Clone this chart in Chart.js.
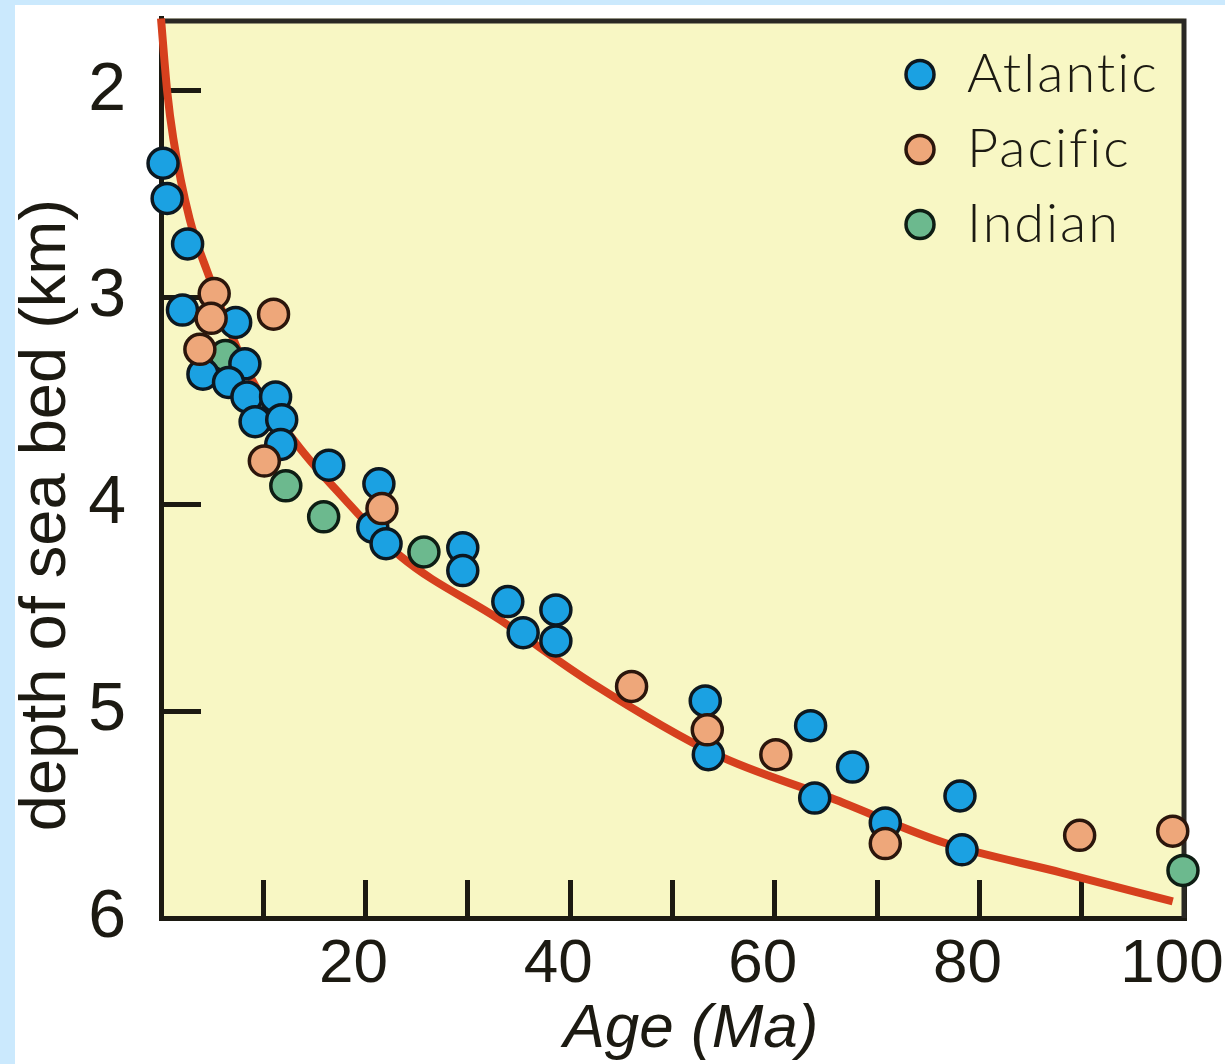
<!DOCTYPE html>
<html>
<head>
<meta charset="utf-8">
<script src="https://cdn.jsdelivr.net/npm/chart.js@4.4.1/dist/chart.umd.min.js"></script>
<style>
  html, body { margin: 0; padding: 0; background: #fff; }
  #bg { position: absolute; left: 0; top: 0; width: 1225px; height: 1064px; box-sizing: border-box;
        border-left: 15px solid #cbe9fd; border-top: 5px solid #cbe9fd; background: #fff; }
  #chart { position: absolute; left: 0; top: 0; }
</style>
</head>
<body>
<div id="bg"></div>
<canvas id="chart" width="1225" height="1064"></canvas>
<script>
// points: age (Ma) and depth (km)
const atlanticAge   = [0.2, 0.6, 2.6, 2.1, 7.3, 8.2, 4.1, 6.6, 8.4, 11.2, 9.2, 11.8, 11.7, 16.4, 21.3, 20.7, 22.0, 29.5, 29.5, 33.9, 35.4, 38.6, 38.6, 53.2, 53.5, 63.5, 67.6, 63.9, 70.8, 78.1, 78.3];
const atlanticDepth = [2.35, 2.52, 2.74, 3.06, 3.12, 3.32, 3.37, 3.41, 3.48, 3.48, 3.60, 3.59, 3.71, 3.81, 3.90, 4.11, 4.19, 4.21, 4.32, 4.47, 4.62, 4.51, 4.66, 4.95, 5.21, 5.07, 5.27, 5.42, 5.54, 5.41, 5.67];

const pacificAge   = [5.2, 4.9, 11.0, 3.8, 10.1, 21.6, 46.0, 53.4, 60.1, 70.8, 89.8, 98.9];
const pacificDepth = [2.98, 3.10, 3.08, 3.25, 3.79, 4.02, 4.88, 5.09, 5.21, 5.64, 5.60, 5.58];

const indianAge   = [6.3, 12.2, 15.9, 25.7, 99.9];
const indianDepth = [3.28, 3.91, 4.06, 4.23, 5.77];

// the red trend curve, traced
const curveAge   = [0, 0.6, 1.2, 2.8, 4.5, 8.7, 13.3, 17.5, 23.4, 33.2, 42, 54.3, 65.5, 76.8, 88, 98.9];
const curveDepth = [1.65, 2.0, 2.23, 2.62, 2.87, 3.38, 3.71, 3.95, 4.25, 4.56, 4.86, 5.21, 5.42, 5.64, 5.78, 5.92];

const seriesNames = ['Atlantic', 'Pacific', 'Indian'];
const xTickValues = [10, 20, 30, 40, 50, 60, 70, 80, 90, 100];
const xLabelValues = [20, 40, 60, 80, 100];
const yTickValues = [2, 3, 4, 5, 6];

const ink = '#1c1a12';
const toXY = (xs, ys) => xs.map((x, i) => ({ x: x, y: ys[i] }));

const pointSet = (label, xs, ys, fill, edge, order) => ({
  label: label,
  data: toXY(xs, ys),
  backgroundColor: fill,
  borderColor: edge,
  borderWidth: 3.5,
  pointRadius: 15,
  pointHoverRadius: 15,
  showLine: false,
  clip: false,
  order: order
});

const datasets = [
  pointSet(seriesNames[0], atlanticAge, atlanticDepth, '#1ba1e2', '#0d1820', 2),
  pointSet(seriesNames[1], pacificAge, pacificDepth, '#eea77a', '#2b160c', 1),
  pointSet(seriesNames[2], indianAge, indianDepth, '#6cb98e', '#0e1d14', 3),
  {
    label: 'trend',
    data: toXY(curveAge, curveDepth),
    showLine: true,
    borderColor: '#d6401e',
    borderWidth: 8,
    pointRadius: 0,
    cubicInterpolationMode: 'monotone',
    clip: false,
    order: 4
  }
];

// scales ask for room for their edge labels; the plot box is fixed here instead
const fixBox = (s, key, size) => {
  s[key] = size;
  s.paddingTop = 0; s.paddingBottom = 0; s.paddingLeft = 0; s.paddingRight = 0;
};

// yellow plot background + thin top/right frame
const plotFrame = {
  id: 'plotFrame',
  beforeDraw(chart) {
    const { ctx, chartArea: a } = chart;
    ctx.save();
    ctx.fillStyle = '#f8f7c4';
    ctx.fillRect(a.left, a.top, a.right - a.left, a.bottom - a.top);
    ctx.restore();
  },
  beforeDatasetsDraw(chart) {
    const { ctx, chartArea: a } = chart;
    ctx.save();
    ctx.strokeStyle = '#2a2824';
    ctx.lineWidth = 5;
    ctx.beginPath();
    ctx.moveTo(a.left, a.top + 2.5);
    ctx.lineTo(a.right, a.top + 2.5);
    ctx.moveTo(a.right, a.top);
    ctx.lineTo(a.right, a.bottom);
    ctx.stroke();
    ctx.restore();
  }
};

// legend inside the plot + axis titles
const labelsPlugin = {
  id: 'labelsPlugin',
  afterDraw(chart) {
    const { ctx, chartArea: a } = chart;
    ctx.save();
    seriesNames.forEach((name, i) => {
      const ds = chart.data.datasets.find(d => d.label === name);
      const cx = a.right - 264, cy = a.top + 56 + i * 75;
      ctx.beginPath();
      ctx.arc(cx, cy, 14, 0, Math.PI * 2);
      ctx.fillStyle = ds.backgroundColor;
      ctx.fill();
      ctx.lineWidth = 3.5;
      ctx.strokeStyle = ds.borderColor;
      ctx.stroke();
      ctx.fillStyle = ink;
      ctx.font = '300 54px Lato';
      ctx.letterSpacing = '2px';
      ctx.textAlign = 'left';
      ctx.textBaseline = 'middle';
      ctx.fillText(name, cx + 47, cy);
    });
    ctx.letterSpacing = '0px';

    ctx.fillStyle = ink;
    ctx.textAlign = 'center';
    ctx.textBaseline = 'middle';
    ctx.font = 'italic 62px "Liberation Sans"';
    ctx.fillText('Age (Ma)', 691, 1030);

    ctx.translate(47, 515);
    ctx.rotate(-Math.PI / 2);
    ctx.font = '65px "Liberation Sans"';
    ctx.fillText('depth of sea bed (km)', 0, 0);
    ctx.restore();
  }
};

new Chart(document.getElementById('chart'), {
  type: 'scatter',
  data: { datasets: datasets },
  options: {
    responsive: false,
    animation: false,
    devicePixelRatio: 1,
    layout: { padding: { top: 7, right: 41, left: 0, bottom: 0 } },
    plugins: { legend: { display: false }, tooltip: { enabled: false } },
    scales: {
      x: {
        type: 'linear', min: 0, max: 100,
        afterBuildTicks: s => { s.ticks = xTickValues.map(v => ({ value: v })); },
        afterFit: s => fixBox(s, 'height', 146),
        grid: { drawOnChartArea: false, tickLength: -38, tickWidth: 5, tickColor: ink },
        border: { display: true, width: 5, color: ink },
        ticks: {
          autoSkip: false, maxRotation: 0, padding: 48, labelOffset: -12, color: ink,
          font: { family: 'Liberation Sans', size: 62 },
          callback: v => xLabelValues.includes(v) ? String(v) : ''
        }
      },
      y: {
        type: 'linear', reverse: true, min: 1.65, max: 6,
        afterBuildTicks: s => { s.ticks = yTickValues.map(v => ({ value: v })); },
        afterFit: s => fixBox(s, 'width', 161),
        grid: { drawOnChartArea: false, tickLength: -40, tickWidth: 5, tickColor: ink },
        border: { display: true, width: 5, color: ink },
        ticks: {
          padding: 75, color: ink,
          font: { family: 'Liberation Sans', size: 68 },
          callback: v => String(v)
        }
      }
    }
  },
  plugins: [plotFrame, labelsPlugin]
});
</script>
</body>
</html>
